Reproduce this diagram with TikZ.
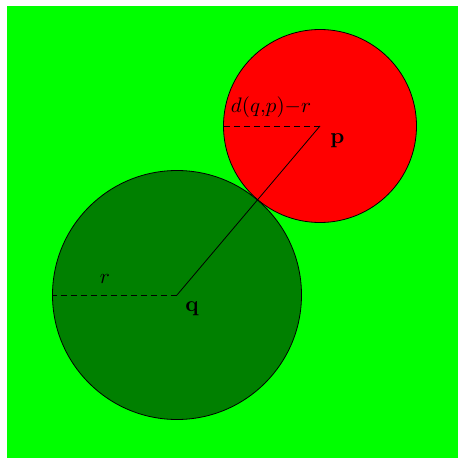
\documentclass[tikz,border=0pt]{standalone}
\usepackage{graphicx}
\usepackage{tikz}
\begin{document}
\begin{tikzpicture}[x=1pt,y=-1pt,
  bg/.style={fill={rgb,255:red,0;green,255;blue,0}},
  disk/.style={draw=black,line width=0.8pt},
  lab/.style={inner sep=0pt}]
\useasboundingbox (0,0) rectangle (458,458);
\fill[bg] (7,6) rectangle (458,458);
\coordinate (q) at (177,295);
\coordinate (p) at (320,126);
\filldraw[disk,fill={rgb,255:red,0;green,128;blue,0}] (q) circle (124.5);
\filldraw[disk,fill={rgb,255:red,255;green,0;blue,0}] (p) circle (96.5);
\coordinate (qL) at (52.5,295);
\coordinate (pL) at (223.5,126);
\draw[line width=0.8pt] (q) -- (p);
\draw[line width=0.8pt,dashed,dash pattern=on 6pt off 4pt] (q) -- (qL);
\draw[line width=0.8pt,dashed,dash pattern=on 6pt off 4pt] (p) -- (pL);
\node[lab] (rl) at (105,279) {\scalebox{2.1}{$r$}};
\node[lab] (dl) at (271,107) {\scalebox{2.1}{$d(q{,}p){-}r$}};
\node[lab] (pl) at (337.5,141) {\scalebox{2.2}{\bfseries p}};
\node[lab] (ql) at (192,309) {\scalebox{2.2}{\bfseries q}};
\end{tikzpicture}
\end{document}
